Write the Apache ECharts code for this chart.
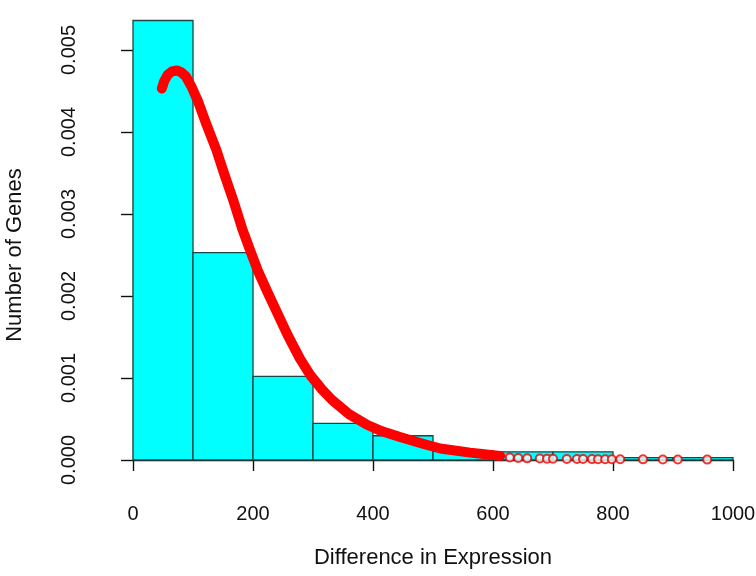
<!DOCTYPE html>
<html>
<head>
<meta charset="utf-8">
<script src="https://cdn.jsdelivr.net/npm/echarts@6/dist/echarts.min.js"></script>
<style>html,body{margin:0;padding:0;background:#fff}#c{width:756px;height:576px}</style>
</head>
<body>
<div id="c"></div>
<script>
// Histogram bins (density scale)
var binStart = [0, 100, 200, 300, 400, 500, 600, 700, 800, 900];
var binEnd   = [100, 200, 300, 400, 500, 600, 700, 800, 900, 1000];
var density  = [0.00536, 0.00253, 0.00102, 0.000446, 0.000296, 0.00011, 0.0001, 0.0001, 0.00003, 0.00003];

// Fitted density curve
var curveX = [48, 52, 58, 65, 73, 80, 88, 97, 108, 122, 139, 152, 167, 182, 195, 208, 224, 240, 258, 278, 296, 315, 332, 360, 390, 415, 445, 480, 512, 562, 612];
var curveY = [0.00453, 0.00462, 0.00470, 0.00474, 0.00475, 0.00473, 0.00468, 0.00456, 0.00438, 0.00410, 0.00378, 0.00349, 0.00317, 0.00282, 0.00256, 0.00231, 0.00205, 0.00180, 0.00152, 0.00124, 0.00103, 0.00086, 0.00073, 0.00056, 0.00043, 0.00035, 0.00028, 0.000205, 0.00014, 0.00009, 0.00005];

// Sparse tail points
var tailX = [628, 642, 657, 678, 690, 700, 723, 740, 750, 765, 775, 787, 798, 812, 850, 883, 908, 957];
var tailY = [0.00003, 0.000025, 0.00002, 0.000018, 0.000016, 0.000015, 0.000013, 0.000012, 0.000012, 0.000011, 0.00001, 0.00001, 0.00001, 0.000009, 0.000008, 0.000007, 0.000006, 0.000005];

var xTicks = [0, 200, 400, 600, 800, 1000];

var histData = binStart.map(function (s, i) { return [s, binEnd[i], density[i]]; });
var curveData = curveX.map(function (x, i) { return [x, curveY[i]]; });
var tailData = tailX.map(function (x, i) { return [x, tailY[i]]; });

var font = 'Liberation Sans, Arial, sans-serif';
var chart = echarts.init(document.getElementById('c'), null, {renderer: 'canvas'});
chart.setOption({
  animation: false,
  backgroundColor: '#ffffff',
  grid: {left: 133, right: 23, top: 50, bottom: 116, containLabel: false, outerBoundsMode: 'none'},
  xAxis: {
    type: 'value', min: xTicks[0], max: xTicks[xTicks.length - 1], interval: 200,
    offset: 19,
    name: 'Difference in Expression', nameLocation: 'middle', nameGap: 68,
    nameTextStyle: {fontFamily: font, fontSize: 22, color: '#111'},
    axisLine: {lineStyle: {color: '#111', width: 1.4}},
    axisTick: {length: 11, lineStyle: {color: '#111', width: 1.4}},
    axisLabel: {fontFamily: font, fontSize: 20, color: '#111', margin: 25,
      formatter: function (v) { return String(v); }},
    splitLine: {show: false}
  },
  yAxis: {
    type: 'value', min: 0, max: 0.005, interval: 0.001,
    offset: 24,
    name: 'Number of Genes', nameLocation: 'middle', nameGap: 83, nameRotate: 90,
    nameTextStyle: {fontFamily: font, fontSize: 22, color: '#111'},
    axisLine: {show: true, lineStyle: {color: '#111', width: 1.4}},
    axisTick: {show: true, length: 12, lineStyle: {color: '#111', width: 1.4}},
    axisLabel: {fontFamily: font, fontSize: 20, color: '#111', rotate: 90, margin: 30,
      formatter: function (v) { return v.toFixed(3); }},
    splitLine: {show: false}
  },
  series: [
    {
      type: 'custom',
      clip: false,
      data: histData,
      renderItem: function (params, api) {
        var p0 = api.coord([api.value(0), api.value(2)]);
        var p1 = api.coord([api.value(1), 0]);
        return {
          type: 'rect',
          shape: {x: p0[0], y: p0[1], width: p1[0] - p0[0], height: p1[1] - p0[1]},
          style: {fill: '#00FFFF', stroke: '#1d4646', lineWidth: 1.3}
        };
      },
      z: 1
    },
    {
      type: 'line',
      data: curveData,
      smooth: false,
      clip: false,
      showSymbol: false,
      symbol: 'none',
      lineStyle: {color: '#FF0000', width: 10, cap: 'round', join: 'round'},
      z: 3
    },
    {
      type: 'scatter',
      data: tailData,
      symbol: 'emptyCircle',
      symbolSize: 8,
      clip: false,
      itemStyle: {color: '#EE0000', borderColor: '#EE0000', borderWidth: 2.5},
      z: 4
    }
  ]
});
</script>
</body>
</html>
